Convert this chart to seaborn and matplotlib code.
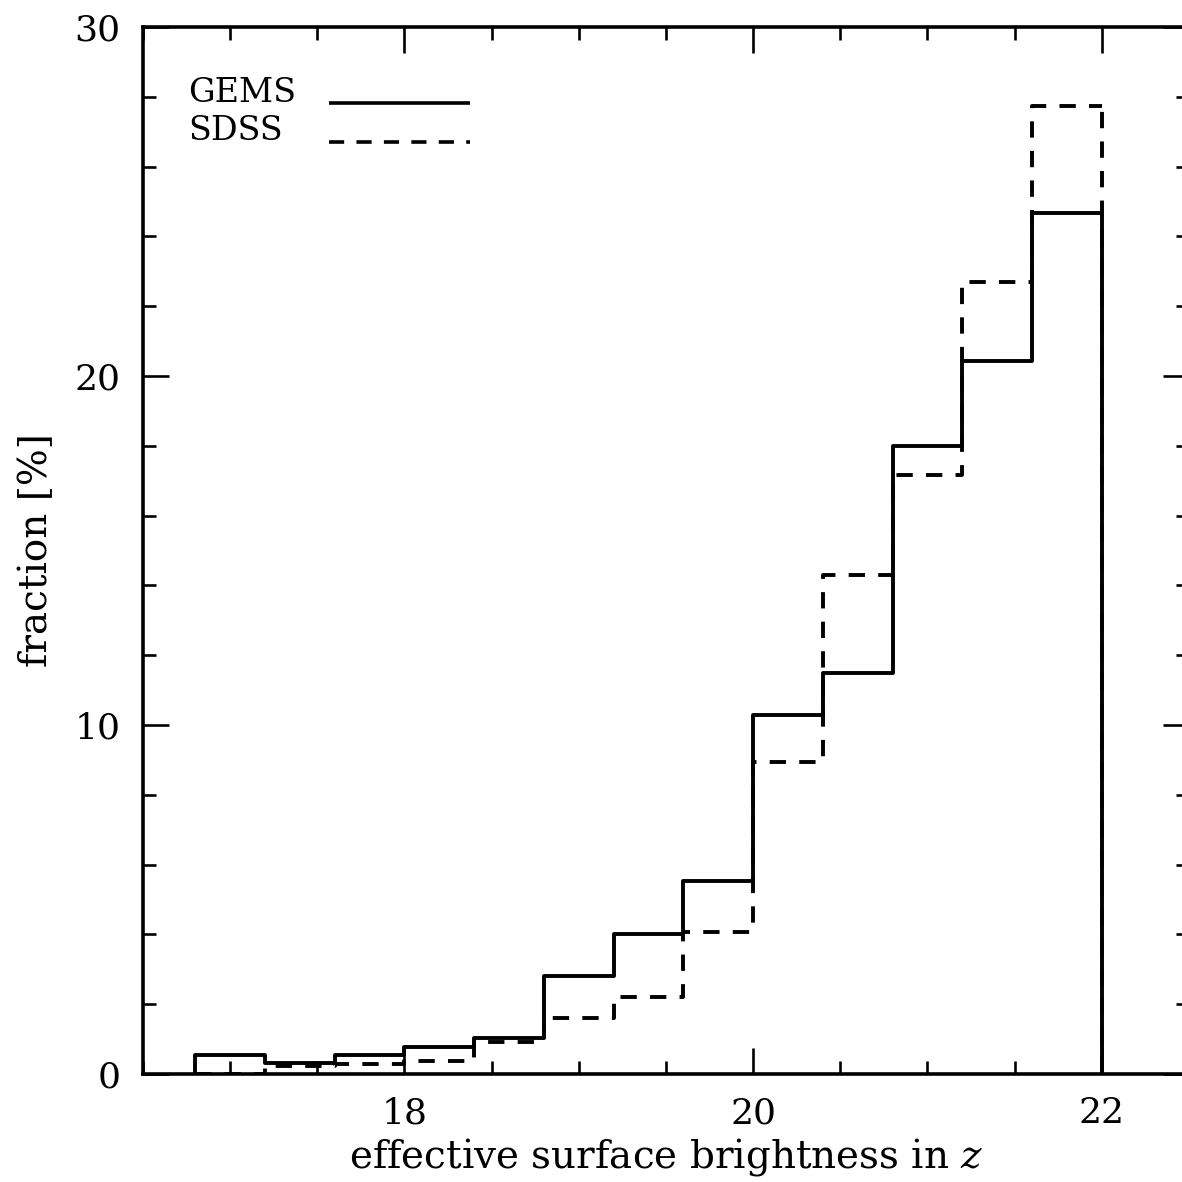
import numpy as np
import pandas as pd
import matplotlib
matplotlib.use("Agg")
import matplotlib.pyplot as plt
import seaborn as sns

# ---- data ----
bin_edges = [16.8, 17.2, 17.6, 18.0, 18.4, 18.8, 19.2, 19.6, 20.0, 20.4, 20.8, 21.2, 21.6, 22.0]
gems_frac = [0.55, 0.31, 0.55, 0.78, 1.03, 2.80, 4.02, 5.52, 10.28, 11.48, 17.98, 20.44, 24.68]
sdss_frac = [0.0, 0.22, 0.28, 0.36, 0.91, 1.60, 2.20, 4.07, 8.95, 14.29, 17.15, 22.70, 27.74]
series_names = ["GEMS", "SDSS"]
x_ticks_major = [18, 20, 22]
y_ticks_major = [0, 10, 20, 30]

sns.set_theme(style="ticks")
plt.rcParams["font.family"] = ["DejaVu Serif"]
plt.rcParams["mathtext.fontset"] = "dejavuserif"
plt.rcParams["text.color"] = "black"
plt.rcParams["axes.labelcolor"] = "black"

bin_centers = [(a + b) / 2 for a, b in zip(bin_edges[:-1], bin_edges[1:])]
df = pd.DataFrame({"mu": bin_centers * 2,
                   "frac": gems_frac + sdss_frac,
                   "sample": [series_names[0]] * len(gems_frac) + [series_names[1]] * len(sdss_frac)})

W = 1182.0
fig = plt.figure(figsize=(11.82, 11.82), dpi=100)
ax = fig.add_axes([143 / W, 108 / W, 1046 / W, 1047 / W])

lw = 2.8
dash = (0, (4.2, 3.4))

# SDSS first (dashed), GEMS on top (solid)
sns.histplot(data=df[df["sample"] == series_names[1]], x="mu", weights="frac", bins=bin_edges,
             element="step", fill=False, color="black", linewidth=lw, linestyle=dash, ax=ax)
ax.vlines([bin_edges[-1]], 0, [sdss_frac[-1]], colors="black", linewidth=lw, linestyles=[dash])
sns.histplot(data=df[df["sample"] == series_names[0]], x="mu", weights="frac", bins=bin_edges,
             element="step", fill=False, color="black", linewidth=lw, ax=ax)
ax.vlines([bin_edges[0], bin_edges[-1]], 0, [gems_frac[0], gems_frac[-1]],
          colors="black", linewidth=lw)

ax.set_xlim(16.5, 22.5)
ax.set_ylim(0, 30)
ax.set_xticks(x_ticks_major)
ax.set_xticks(np.arange(16.5, 22.51, 0.5), minor=True)
ax.set_yticks(y_ticks_major)
ax.set_yticks(np.arange(0, 30.1, 2), minor=True)

fs = 26
ax.tick_params(which="both", direction="in", top=True, right=True, colors="black",
               labelsize=fs, width=1.9)
ax.tick_params(which="major", length=18.7, pad=16)
ax.tick_params(which="minor", length=9.4)
for s in ax.spines.values():
    s.set_linewidth(2.6)
    s.set_color("black")

ax.set_xlabel(r"effective surface brightness in $z$", fontsize=28, labelpad=4)
ax.set_ylabel("fraction [%]", fontsize=28, labelpad=14)

# legend drawn by hand (text left, line sample right), in axes coordinates
def ax_xy(px, py):
    return ((px - 143) / 1046.0, (1074 - py) / 1047.0)

leg_styles = ["-", dash]
leg_rows = [(102, 103), (140, 142)]
for name, style, (ty, ly) in zip(series_names, leg_styles, leg_rows):
    tx, tyy = ax_xy(188, ty)
    ax.text(tx, tyy, name, transform=ax.transAxes, fontsize=24, ha="left", va="baseline",
            color="black")
    x0, yy = ax_xy(329, ly)
    x1, _ = ax_xy(470, ly)
    ax.plot([x0, x1], [yy, yy], transform=ax.transAxes, color="black", linewidth=2.6,
            linestyle=style, solid_capstyle="butt", dash_capstyle="butt")

fig.savefig("out.png", dpi=100, facecolor="white")
